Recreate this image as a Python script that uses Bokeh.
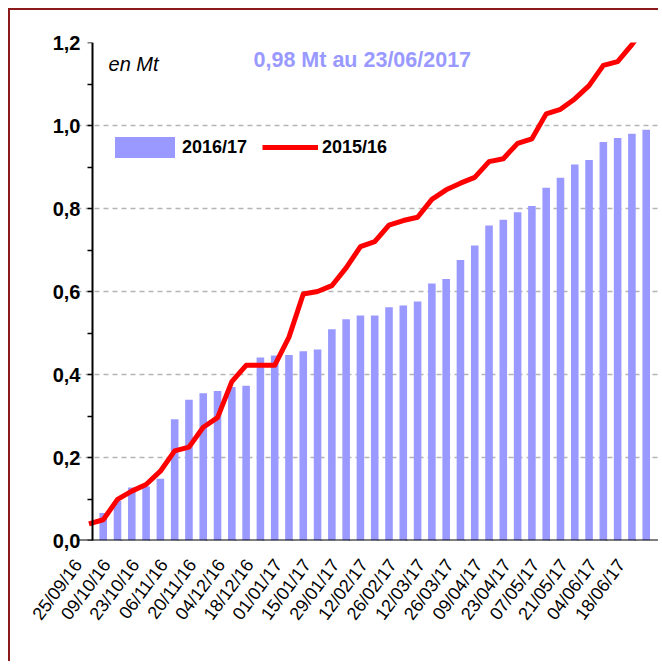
from bokeh.plotting import figure
from bokeh.models import (FixedTicker, CustomJSTickFormatter, Legend, LegendItem,
                          Label, Range1d, LinearAxis)
from bokeh.embed import file_html
from bokeh.resources import INLINE

# ---------------- data ----------------
dates = ["25/09/16", "02/10/16", "09/10/16", "16/10/16", "23/10/16", "30/10/16",
         "06/11/16", "13/11/16", "20/11/16", "27/11/16", "04/12/16", "11/12/16",
         "18/12/16", "25/12/16", "01/01/17", "08/01/17", "15/01/17", "22/01/17",
         "29/01/17", "05/02/17", "12/02/17", "19/02/17", "26/02/17", "05/03/17",
         "12/03/17", "19/03/17", "26/03/17", "02/04/17", "09/04/17", "16/04/17",
         "23/04/17", "30/04/17", "07/05/17", "14/05/17", "21/05/17", "28/05/17",
         "04/06/17", "11/06/17", "18/06/17", "25/06/17"]

# first week hidden behind the vertical axis in the original
campagne_2016_17 = [None, 0.066, 0.095, 0.128, 0.130, 0.149, 0.292, 0.339, 0.355, 0.360,
                    0.370, 0.373, 0.441, 0.446, 0.447, 0.456, 0.460, 0.509, 0.533, 0.542,
                    0.542, 0.562, 0.566, 0.576, 0.619, 0.630, 0.676, 0.711, 0.759, 0.773,
                    0.791, 0.806, 0.850, 0.874, 0.906, 0.917, 0.960, 0.970, 0.980, 0.990]

campagne_2015_16 = [0.040, 0.050, 0.099, 0.119, 0.135, 0.167, 0.216, 0.225, 0.273, 0.296,
                    0.383, 0.422, 0.422, 0.422, 0.490, 0.594, 0.600, 0.614, 0.657, 0.708,
                    0.720, 0.760, 0.771, 0.779, 0.822, 0.845, 0.861, 0.875, 0.913, 0.920,
                    0.957, 0.968, 1.028, 1.039, 1.064, 1.096, 1.145, 1.154, 1.195, 1.240]

y_ticks = [0.0, 0.2, 0.4, 0.6, 0.8, 1.0, 1.2]
y_minor_ticks = [0.1, 0.3, 0.5, 0.7, 0.9, 1.1]

series_labels = ["2016/17", "2015/16"]
note_text = "0,98 Mt au 23/06/2017"
unit_text = "en Mt"

# ---------------- styling ----------------
FONT = "Liberation Sans"
BAR_COLOR = "#9999FF"
LINE_COLOR = "#FF0000"
LABEL_SHIFT = 0.5      # rotated labels end slightly left of the category centre

idx = list(range(len(dates)))
xpos = [i + 0.25 for i in idx]                      # series offset inside each category
label_ticks = [i - LABEL_SHIFT for i in idx[::2]]   # every second week labelled
label_text = {t: dates[i] for t, i in zip(label_ticks, idx[::2])}
tick_marks = [i + 0.5 for i in idx[::2]]            # tick marks between categories
bar_vals = [float("nan") if v is None else v for v in campagne_2016_17]

p = figure(width=650, height=653,
           x_range=Range1d(-0.62, 40.25), y_range=Range1d(0, 1.2),
           output_backend="svg", toolbar_location=None,
           min_border_left=66, min_border_right=0,
           min_border_top=32, min_border_bottom=123)
p.styles = {"margin-left": "8px", "margin-top": "8px",
            "border-left": "2px solid #8B1A1A", "border-top": "2px solid #8B1A1A"}
p.outline_line_color = None
p.background_fill_color = "white"
p.border_fill_color = "white"

# grid
p.xgrid.visible = False
p.ygrid.ticker = FixedTicker(ticks=y_ticks[1:])
p.ygrid.grid_line_color = "#B4B4B4"
p.ygrid.grid_line_width = 1.5
p.ygrid.grid_line_dash = "5 4"
p.ygrid.bounds = (0.5, 41)

bars = p.vbar(x=xpos, top=bar_vals, width=0.53,
              fill_color=BAR_COLOR, line_color=None)
line = p.line(x=xpos, y=campagne_2015_16, line_color=LINE_COLOR, line_width=5,
              line_join="round", line_cap="butt")

# y axis: labels on the left panel
ylab = p.yaxis[0]
ylab.ticker = FixedTicker(ticks=y_ticks)
ylab.formatter = CustomJSTickFormatter(code="return tick.toFixed(1).replace('.', ',');")
ylab.axis_line_color = None
ylab.major_tick_line_color = None
ylab.minor_tick_line_color = None
ylab.major_tick_out = 0
ylab.major_tick_in = 0
ylab.major_label_standoff = -4
ylab.major_label_text_font = FONT
ylab.major_label_text_font_style = "bold"
ylab.major_label_text_font_size = "20px"
ylab.major_label_text_color = "black"

# y axis line with its ticks, crossing between the first two categories
yline = LinearAxis(fixed_location=0.5,
                   ticker=FixedTicker(ticks=y_ticks, minor_ticks=y_minor_ticks),
                   axis_line_width=2, axis_line_color="black",
                   major_tick_out=5, major_tick_in=0, minor_tick_out=5, minor_tick_in=0,
                   major_tick_line_width=1.5, minor_tick_line_width=1.5,
                   major_label_text_alpha=0, major_label_text_font_size="1px")
p.add_layout(yline, "left")

# x axis: date labels
xlab = p.xaxis[0]
xlab.ticker = FixedTicker(ticks=label_ticks)
xlab.major_label_overrides = label_text
xlab.axis_line_color = None
xlab.major_tick_line_color = None
xlab.minor_tick_line_color = None
xlab.major_tick_out = 0
xlab.major_tick_in = 0
xlab.major_label_orientation = 0.93
xlab.major_label_standoff = 21
xlab.major_label_text_font = FONT
xlab.major_label_text_font_size = "18px"
xlab.major_label_text_color = "black"

# x axis line with tick marks between categories
xline = LinearAxis(fixed_location=0,
                   ticker=FixedTicker(ticks=tick_marks),
                   axis_line_width=2, axis_line_color="black",
                   major_tick_out=7, major_tick_in=0, major_tick_line_width=2,
                   minor_tick_line_color=None,
                   major_label_text_alpha=0, major_label_text_font_size="1px")
p.add_layout(xline, "below")

# legends
common = dict(orientation="horizontal", glyph_height=26, label_height=26, padding=0,
              margin=0, border_line_color=None, background_fill_alpha=0,
              label_text_font=FONT, label_text_font_style="bold",
              label_text_font_size="18px", label_text_color="black")
leg1 = Legend(items=[LegendItem(label=series_labels[0], renderers=[bars])],
              location=(31, 380), glyph_width=75, label_standoff=-4, **common)
leg2 = Legend(items=[LegendItem(label=series_labels[1], renderers=[line])],
              location=(186, 380), glyph_width=56, label_standoff=4, **common)
p.add_layout(leg1)
p.add_layout(leg2)

# texts
p.add_layout(Label(x=1.62, y=1.149, text=unit_text, text_font=FONT,
                   text_font_style="italic", text_font_size="20px",
                   text_baseline="middle", text_align="left", text_color="black"))
p.add_layout(Label(x=11.77, y=1.159, text=note_text, text_font=FONT,
                   text_font_style="bold", text_font_size="21.5px",
                   text_baseline="middle", text_align="left", text_color=BAR_COLOR))

open("out.html", "w").write(file_html(p, INLINE))
